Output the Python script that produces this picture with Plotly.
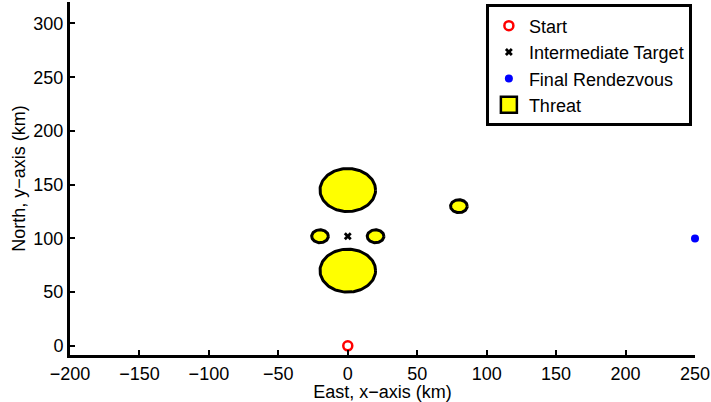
import numpy as np
import plotly.graph_objects as go

# Data
start = (0, 0)
target = (0, 102)
rendezvous = (250, 100)
threat_x = [0, 0, -20, 20, 80]
threat_y = [145, 70, 102, 102, 130]
threat_r = [20, 20, 6, 6, 6]
x_ticks = [-200, -150, -100, -50, 0, 50, 100, 150, 200, 250]
y_ticks = [0, 50, 100, 150, 200, 250, 300]

FONT = "Liberation Sans, Arial, sans-serif"
TFS = 18      # tick labels
AFS = 18      # axis titles
LFS = 18      # legend

# Threat outlines
t = np.linspace(0, 2 * np.pi, 121)
cx, cy = [], []
for x0, y0, r in zip(threat_x, threat_y, threat_r):
    cx += list(x0 + r * np.cos(t)) + [None]
    cy += list(y0 + r * np.sin(t)) + [None]

fig = go.Figure()
fig.add_trace(go.Scatter(x=[start[0]], y=[start[1]], mode="markers", name="Start",
                         marker=dict(symbol="circle-open", color="red", size=9,
                                     line=dict(width=2.5, color="red")),
                         cliponaxis=False))
fig.add_trace(go.Scatter(x=[target[0]], y=[target[1]], mode="markers", name="Intermediate Target",
                         marker=dict(symbol="x", color="black", size=7, line=dict(width=0)),
                         cliponaxis=False))
fig.add_trace(go.Scatter(x=[rendezvous[0]], y=[rendezvous[1]], mode="markers", name="Final Rendezvous",
                         marker=dict(symbol="circle", color="blue", size=8),
                         cliponaxis=False))
fig.add_trace(go.Scatter(x=cx, y=cy, mode="lines", fill="toself", name="Threat",
                         fillcolor="yellow", line=dict(color="black", width=3),
                         showlegend=False, legendgroup="threat"))
# legend-only entry showing the threat patch
fig.add_trace(go.Scatter(x=[None], y=[None], mode="markers", name="Threat",
                         legendgroup="threat",
                         marker=dict(symbol="square", color="yellow", size=16,
                                     line=dict(color="black", width=2.5))))

fig.update_layout(
    width=711, height=402,
    margin=dict(l=70, r=16, t=2, b=47),
    paper_bgcolor="white", plot_bgcolor="white",
    font=dict(family=FONT, size=TFS, color="black"),
    legend=dict(x=0.995, y=0.993, xanchor="right", yanchor="top",
                bordercolor="black", borderwidth=3, bgcolor="white",
                font=dict(family=FONT, size=LFS), tracegroupgap=0,
                itemwidth=30),
    xaxis=dict(range=[-200, 250], tickvals=x_ticks,
               ticktext=[str(v).replace("-", "\u2212") for v in x_ticks],
               tickfont=dict(family=FONT, size=TFS),
               showline=True, linecolor="black", linewidth=3,
               ticks="inside", ticklen=5, tickwidth=2, tickcolor="black",
               showgrid=False, zeroline=False,
               title=dict(text="East, x\u2212axis (km)", standoff=3,
                          font=dict(family=FONT, size=AFS))),
    yaxis=dict(range=[-8.5, 320], tickvals=y_ticks,
               tickfont=dict(family=FONT, size=TFS),
               showline=True, linecolor="black", linewidth=3,
               ticks="inside", ticklen=5, tickwidth=2, tickcolor="black",
               showgrid=False, zeroline=False,
               title=dict(text="North, y\u2212axis (km)", standoff=4,
                          font=dict(family=FONT, size=AFS))),
)

fig.write_html("out.html", config={"displayModeBar": False},
               post_script="document.body.style.margin='0px';document.body.style.overflow='hidden';")
